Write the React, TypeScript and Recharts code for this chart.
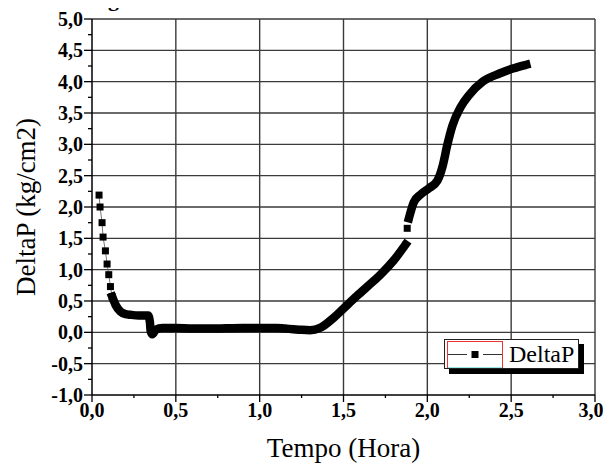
import React from "react";
import { ComposedChart, Line, Scatter, XAxis, YAxis, ReferenceLine, ZAxis } from "recharts";

// Tick positions (major every 0,5, minor every 0,25)
const xTicks = [0, 0.25, 0.5, 0.75, 1, 1.25, 1.5, 1.75, 2, 2.25, 2.5, 2.75, 3];
const yTicks = [-1, -0.75, -0.5, -0.25, 0, 0.25, 0.5, 0.75, 1, 1.25, 1.5, 1.75, 2, 2.25, 2.5, 2.75, 3, 3.25, 3.5, 3.75, 4, 4.25, 4.5, 4.75, 5];

// Sparse markers at the start of the run (and one stray point near 1,88 h)
const headPoints = [
  { x: 0.042, y: 2.19 },
  { x: 0.048, y: 2.0 },
  { x: 0.06, y: 1.75 },
  { x: 0.066, y: 1.52 },
  { x: 0.08, y: 1.3 },
  { x: 0.09, y: 1.09 },
  { x: 0.1, y: 0.92 },
  { x: 0.11, y: 0.73 },
  { x: 0.12, y: 0.57 },
];
const strayPoints = [{ x: 1.88, y: 1.66 }];

// Dense part of DeltaP, where the markers merge into a thick band
const bandPoints: { x: number; y: number | null }[] = [
  { x: 0.12, y: 0.57 },
  { x: 0.14, y: 0.44 },
  { x: 0.17, y: 0.33 },
  { x: 0.2, y: 0.29 },
  { x: 0.23, y: 0.28 },
  { x: 0.28, y: 0.27 },
  { x: 0.335, y: 0.27 },
  { x: 0.345, y: 0.17 },
  { x: 0.35, y: 0.02 },
  { x: 0.36, y: -0.03 },
  { x: 0.38, y: 0.04 },
  { x: 0.42, y: 0.07 },
  { x: 0.5, y: 0.07 },
  { x: 0.6, y: 0.06 },
  { x: 0.7, y: 0.06 },
  { x: 0.8, y: 0.065 },
  { x: 0.9, y: 0.07 },
  { x: 1.0, y: 0.07 },
  { x: 1.1, y: 0.07 },
  { x: 1.15, y: 0.06 },
  { x: 1.2, y: 0.05 },
  { x: 1.25, y: 0.04 },
  { x: 1.3, y: 0.035 },
  { x: 1.36, y: 0.07 },
  { x: 1.44, y: 0.23 },
  { x: 1.5, y: 0.38 },
  { x: 1.58, y: 0.58 },
  { x: 1.68, y: 0.82 },
  { x: 1.72, y: 0.92 },
  { x: 1.8, y: 1.15 },
  { x: 1.87, y: 1.4 },
  { x: 1.88, y: null },
  { x: 1.89, y: 1.82 },
  { x: 1.92, y: 2.08 },
  { x: 1.96, y: 2.2 },
  { x: 2.01, y: 2.3 },
  { x: 2.06, y: 2.42 },
  { x: 2.09, y: 2.64 },
  { x: 2.12, y: 3.0 },
  { x: 2.15, y: 3.3 },
  { x: 2.2, y: 3.6 },
  { x: 2.25, y: 3.79 },
  { x: 2.33, y: 4.0 },
  { x: 2.43, y: 4.13 },
  { x: 2.51, y: 4.21 },
  { x: 2.59, y: 4.27 },
];

const SERIF = "'Liberation Serif', 'Times New Roman', serif";
const isMajor = (v: number) => Math.abs(v * 2 - Math.round(v * 2)) < 1e-6;
const fmt = (v: number) => v.toFixed(1).replace(".", ",");
const majorX = xTicks.filter(isMajor);
const majorY = yTicks.filter(isMajor);

function XTick(props: any) {
  const { x, y, payload } = props;
  const major = isMajor(payload.value);
  // last label sits against the page edge, nudge it in a little
  const shift = payload.value === xTicks[xTicks.length - 1] ? -4 : 0;
  return (
    <g>
      <line x1={x} x2={x} y1={y} y2={y + (major ? 7 : 3)} stroke="#000" strokeWidth={1.3} />
      {major && (
        <text x={x + shift} y={y + 22} textAnchor="middle" fontFamily={SERIF} fontWeight="bold" fontSize={20} fill="#000">
          {fmt(payload.value)}
        </text>
      )}
    </g>
  );
}

function YTick(props: any) {
  const { x, y, payload } = props;
  const major = isMajor(payload.value);
  return (
    <g>
      <line x1={x - (major ? 8 : 4)} x2={x} y1={y} y2={y} stroke="#000" strokeWidth={1.3} />
      {major && (
        <text x={x - 9} y={y + 7} textAnchor="end" fontFamily={SERIF} fontWeight="bold" fontSize={20} fill="#000">
          {fmt(payload.value)}
        </text>
      )}
    </g>
  );
}

function SquareDot(props: any) {
  const { cx, cy } = props;
  return <rect x={cx - 3.5} y={cy - 3.5} width={7} height={7} fill="#000" />;
}

export default function App() {
  return (
    <div style={{ position: "relative", width: 603, height: 460 }}>
      <div style={{ position: "absolute", left: 100, top: -22, fontFamily: SERIF, fontWeight: "bold", fontSize: 22 }}>g</div>
      <ComposedChart width={603} height={460} margin={{ top: 11, right: 16, bottom: 3, left: 10 }} style={{ overflow: "visible" }}>
        <XAxis
          type="number"
          dataKey="x"
          domain={[0, 3]}
          ticks={xTicks}
          interval={0}
          tickSize={0}
          tickMargin={0}
          tickLine={false}
          tick={<XTick />}
          height={70}
          allowDataOverflow
          axisLine={{ stroke: "#000", strokeWidth: 1.5 }}
          label={{
            content: (p: any) => (
              <text x={p.viewBox.x + p.viewBox.width / 2} y={p.viewBox.y + 62} textAnchor="middle" fontFamily={SERIF} fontSize={27} fill="#000">
                Tempo (Hora)
              </text>
            ),
          }}
        />
        <YAxis
          type="number"
          dataKey="y"
          domain={[-1, 5]}
          ticks={yTicks}
          interval={0}
          tickSize={0}
          tickMargin={0}
          tickLine={false}
          tick={<YTick />}
          width={74}
          allowDataOverflow
          axisLine={{ stroke: "#000", strokeWidth: 1.5 }}
          label={{
            content: (p: any) => {
              const cx = p.viewBox.x + 8;
              const cy = p.viewBox.y + p.viewBox.height / 2;
              return (
                <text x={cx} y={cy} transform={`rotate(-90 ${cx} ${cy})`} textAnchor="middle" dominantBaseline="central" fontFamily={SERIF} fontSize={27} fill="#000">
                  DeltaP (kg/cm2)
                </text>
              );
            },
          }}
        />
        <ZAxis range={[49, 49]} />
        {majorX.filter((v) => v > 0).map((v) => (
          <ReferenceLine key={"gx" + v} x={v} stroke="#3a3a3a" strokeWidth={1.4} />
        ))}
        {majorY.filter((v) => v > -1).map((v) => (
          <ReferenceLine key={"gy" + v} y={v} stroke="#3a3a3a" strokeWidth={1.4} />
        ))}
        <Line data={headPoints} dataKey="y" stroke="#555" strokeWidth={0.8} dot={false} isAnimationActive={false} />
        <Line
          data={bandPoints}
          type="monotoneX"
          dataKey="y"
          stroke="#000"
          strokeWidth={8.5}
          strokeLinejoin="round"
          strokeLinecap="square"
          dot={false}
          connectNulls={false}
          isAnimationActive={false}
        />
        <Scatter data={headPoints} dataKey="y" fill="#000" shape={<SquareDot />} isAnimationActive={false} />
        <Scatter data={strayPoints} dataKey="y" fill="#000" shape={<SquareDot />} isAnimationActive={false} />
      </ComposedChart>
      <div
        style={{
          position: "absolute",
          left: 436,
          top: 331,
          width: 133,
          height: 28,
          border: "1px solid #222",
          background: "#fff",
          boxShadow: "5px 5px 0 #000",
        }}
      >
        <svg width={133} height={28} style={{ position: "absolute", left: 0, top: 0 }}>
          <rect x={2.5} y={1.5} width={55} height={27} fill="none" stroke="#e33" strokeWidth={1} />
          <line x1={3} x2={57} y1={28} y2={28} stroke="#3cc" strokeWidth={1} />
          <line x1={3} x2={22} y1={14.5} y2={14.5} stroke="#333" strokeWidth={1} />
          <line x1={38} x2={57} y1={14.5} y2={14.5} stroke="#333" strokeWidth={1} />
          <rect x={26.5} y={11} width={7} height={7} fill="#000" />
          <text x={64} y={22} fontFamily={SERIF} fontSize={24} fill="#000">
            DeltaP
          </text>
        </svg>
      </div>
    </div>
  );
}
